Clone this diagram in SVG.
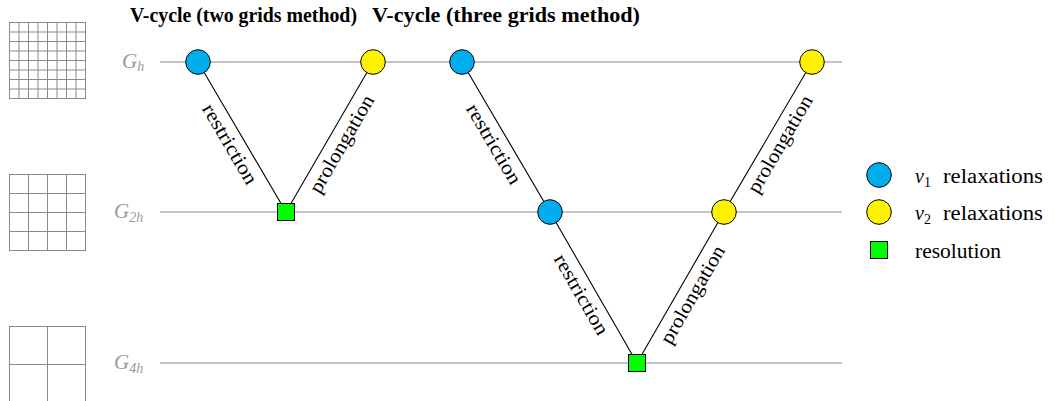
<svg xmlns="http://www.w3.org/2000/svg" width="1054" height="401" viewBox="0 0 1054 401" font-family="'Liberation Serif', 'Times New Roman', serif">
<style>
.grid{stroke:#8a8a8a;stroke-width:1;fill:none}
.level{stroke:#8c8c8c;stroke-width:1.2}
.edge{stroke:#000;stroke-width:1.1;fill:none}
.nu1{fill:#00AEEF;stroke:#000;stroke-width:1}
.nu2{fill:#FFF200;stroke:#000;stroke-width:1}
.res{fill:#00FF00;stroke:#000;stroke-width:1}
.t{font-size:20px;fill:#000}
.title{font-size:20px;font-weight:bold;fill:#000}
.lvl{font-size:21px;fill:#9a9a9a;font-style:italic}
.sub{font-style:italic;font-size:14px;fill:#9a9a9a}
.el{font-size:20px;fill:#000}
</style>
<rect width="1054" height="401" fill="#fff"/>
<g id="titles">
<text class="title" x="130" y="22" textLength="227" lengthAdjust="spacingAndGlyphs">V-cycle (two grids method)</text>
<text class="title" x="372" y="22" textLength="268" lengthAdjust="spacingAndGlyphs">V-cycle (three grids method)</text>
</g>
<g id="grid-h" class="grid">
<rect x="9.5" y="22.5" width="76" height="76"/>
<path d="M19 22.5V98.5M28.5 22.5V98.5M38 22.5V98.5M47.5 22.5V98.5M57 22.5V98.5M66.5 22.5V98.5M76 22.5V98.5M9.5 32H85.5M9.5 41.5H85.5M9.5 51H85.5M9.5 60.5H85.5M9.5 70H85.5M9.5 79.5H85.5M9.5 89H85.5"/>
</g>
<g id="grid-2h" class="grid">
<rect x="9.5" y="174.5" width="76" height="76"/>
<path d="M28.5 174.5V250.5M47.5 174.5V250.5M66.5 174.5V250.5M9.5 193.5H85.5M9.5 212.5H85.5M9.5 231.5H85.5"/>
</g>
<g id="grid-4h" class="grid">
<rect x="9.5" y="326.5" width="76" height="76"/>
<path d="M47.5 326.5V402M9.5 364.5H85.5"/>
</g>
<g id="levels">
<line class="level" x1="160" y1="62" x2="842" y2="62"/>
<line class="level" x1="160" y1="212" x2="842" y2="212"/>
<line class="level" x1="160" y1="363" x2="842" y2="363"/>
<text class="lvl" x="122" y="68">G<tspan class="sub" dy="3">h</tspan></text>
<text class="lvl" x="114" y="218">G<tspan class="sub" dy="4">2h</tspan></text>
<text class="lvl" x="114" y="369">G<tspan class="sub" dy="4">4h</tspan></text>
</g>
<g id="connectors">
<line class="edge" x1="198" y1="62" x2="286" y2="212"/>
<line class="edge" x1="286" y1="212" x2="373" y2="62"/>
<line class="edge" x1="462" y1="62" x2="550" y2="212"/>
<line class="edge" x1="550" y1="212" x2="637" y2="363"/>
<line class="edge" x1="637" y1="363" x2="724" y2="212"/>
<line class="edge" x1="724" y1="212" x2="812" y2="62"/>
<text class="el" transform="translate(242,137) rotate(59.6)" x="0" y="20.5" text-anchor="middle" textLength="90" lengthAdjust="spacingAndGlyphs">restriction</text>
<text class="el" transform="translate(329.5,137) rotate(-59.9)" x="0" y="20.5" text-anchor="middle" textLength="110" lengthAdjust="spacingAndGlyphs">prolongation</text>
<text class="el" transform="translate(506,137) rotate(59.6)" x="0" y="20.5" text-anchor="middle" textLength="90" lengthAdjust="spacingAndGlyphs">restriction</text>
<text class="el" transform="translate(593.5,287.5) rotate(60.06)" x="0" y="20.5" text-anchor="middle" textLength="90" lengthAdjust="spacingAndGlyphs">restriction</text>
<text class="el" transform="translate(680.5,287.5) rotate(-60.06)" x="0" y="20.5" text-anchor="middle" textLength="110" lengthAdjust="spacingAndGlyphs">prolongation</text>
<text class="el" transform="translate(768,137) rotate(-59.6)" x="0" y="20.5" text-anchor="middle" textLength="110" lengthAdjust="spacingAndGlyphs">prolongation</text>
</g>
<g id="two-grid-pre"><circle class="nu1" cx="198" cy="62" r="12.3"/></g>
<g id="two-grid-solve"><rect class="res" x="277.5" y="203.5" width="17" height="17"/></g>
<g id="two-grid-post"><circle class="nu2" cx="373" cy="62" r="12.3"/></g>
<g id="three-grid-pre-h"><circle class="nu1" cx="462" cy="62" r="12.3"/></g>
<g id="three-grid-pre-2h"><circle class="nu1" cx="550" cy="212" r="12.3"/></g>
<g id="three-grid-solve"><rect class="res" x="628.5" y="354.5" width="17" height="17"/></g>
<g id="three-grid-post-2h"><circle class="nu2" cx="724" cy="212" r="12.3"/></g>
<g id="three-grid-post-h"><circle class="nu2" cx="812" cy="62" r="12.3"/></g>
<g id="legend">
<circle class="nu1" cx="879" cy="175" r="12.3"/>
<circle class="nu2" cx="879" cy="212" r="12.3"/>
<rect class="res" x="870.5" y="241.5" width="17" height="17"/>
<text class="t" y="183"><tspan x="915" font-style="italic">ν</tspan><tspan font-size="14" dy="4">1</tspan><tspan x="943" dy="-4" textLength="100" lengthAdjust="spacingAndGlyphs">relaxations</tspan></text>
<text class="t" y="220"><tspan x="915" font-style="italic">ν</tspan><tspan font-size="14" dy="4">2</tspan><tspan x="943" dy="-4" textLength="100" lengthAdjust="spacingAndGlyphs">relaxations</tspan></text>
<text class="t" x="915" y="258" textLength="86" lengthAdjust="spacingAndGlyphs">resolution</text>
</g>
</svg>
